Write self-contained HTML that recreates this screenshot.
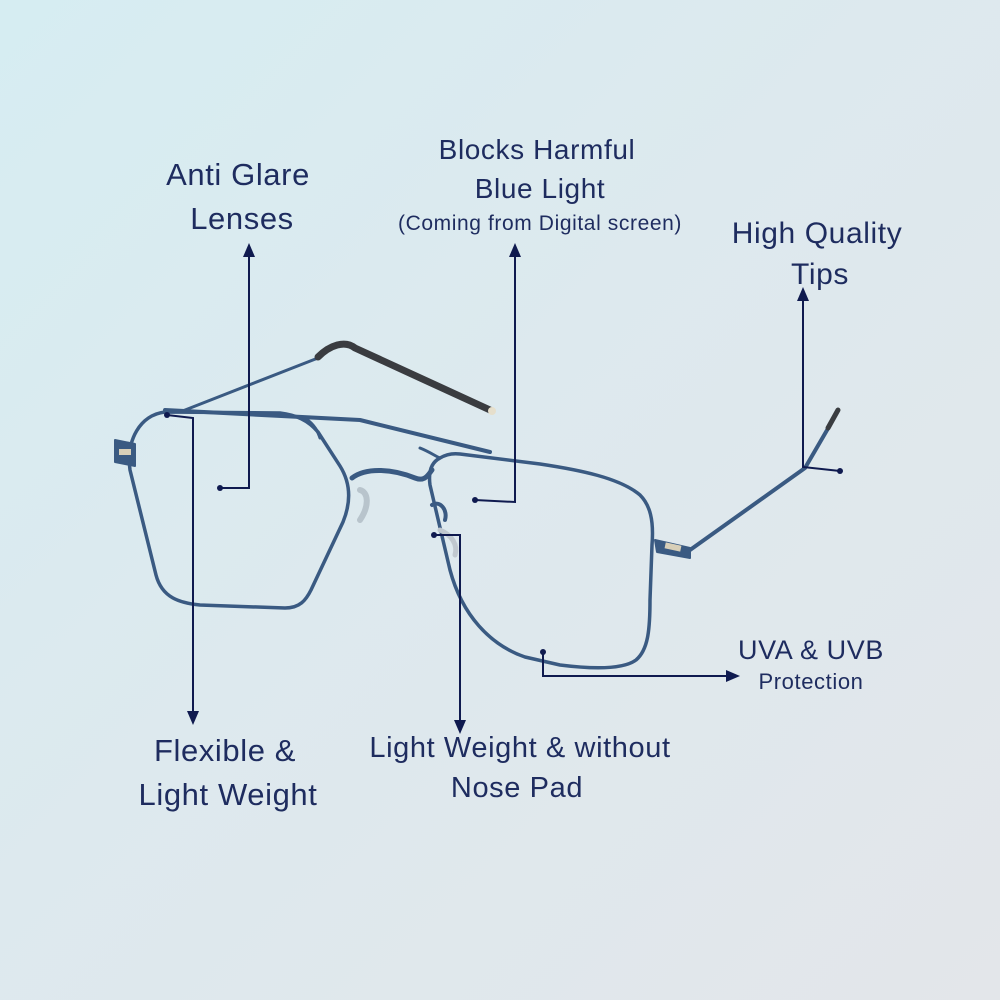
<!DOCTYPE html>
<html><head><meta charset="utf-8"><style>
html,body{margin:0;padding:0}
body{width:1000px;height:1000px;overflow:hidden;background:linear-gradient(135deg,#d6edf2 0%,#dde9ee 45%,#e3e6ea 100%);font-family:"Liberation Sans",sans-serif;position:relative}
.t{position:absolute;color:#1e2c5f;text-align:center;white-space:nowrap;transform:translateX(-50%);line-height:1;letter-spacing:0.6px}
svg{position:absolute;left:0;top:0}
</style></head><body>
<svg width="1000" height="1000" viewBox="0 0 1000 1000">
<g fill="none" stroke="#3a5a82" stroke-linecap="round" stroke-linejoin="round">
<path d="M180,412 L318,358" stroke-width="3"/>
<path d="M318,357 C330,345 345,340 355,348 L490,410" stroke="#3a3c40" stroke-width="7"/>
<path d="M165,410 L360,420 L490,452" stroke-width="4"/>
<path d="M305,418 C315,425 318,432 320,438" stroke-width="3"/>
<path d="M420,448 C430,452 435,456 440,458" stroke-width="3"/>
<path d="M165,412 C140,415 126,440 130,470 L156,575 C162,598 180,603 200,605 L285,608 C300,608 306,600 311,590 L343,522 C352,500 350,482 340,466 L318,432 C308,420 296,415 280,413 Z" stroke-width="3.5"/>
<path d="M352,478 C365,468 390,468 415,478 C425,482 428,475 432,470" stroke-width="5"/>
<path d="M440,458 C432,462 428,470 430,485 L450,570 C462,615 490,645 525,657 L560,665 C600,670 625,668 636,660 C648,650 650,630 650,600 L652,545 C654,520 650,505 640,495 C620,478 580,470 540,464 L460,454 C452,453 445,455 440,458 Z" stroke-width="3.5"/>
<path d="M360,490 C368,492 370,505 360,520" stroke="#b8c4cc" stroke-width="6"/>
<path d="M432,505 C440,500 448,510 445,520" stroke-width="4"/>
<path d="M440,530 C452,535 458,545 455,555" stroke="#c0c8cf" stroke-width="5"/>
<path d="M655,540 L690,548 L690,558 L657,552 Z" fill="#3a5a82" stroke-width="2"/>
<path d="M115,440 L135,444 L135,466 L115,462 Z" fill="#3a5a82" stroke-width="2"/>
<path d="M690,550 L805,468 L830,425" stroke-width="4"/>
<path d="M828,428 L838,410" stroke="#3a3c40" stroke-width="5"/>
</g>
<rect x="665" y="544" width="16" height="6" fill="#d8cfb8" transform="rotate(12 673 547)"/>
<rect x="119" y="449" width="12" height="6" fill="#d8cfb8"/>
<circle cx="492" cy="411" r="4" fill="#e6dfcc"/>
<g stroke="#0f1a4f" stroke-width="2" fill="none">
<polyline points="220,488 249,488 249,255"/>
<polyline points="475,500 515,502 515,255"/>
<polyline points="840,471 803,467 803,298"/>
<polyline points="543,652 543,676 728,676"/>
<polyline points="167,415 193,418 193,712"/>
<polyline points="434,535 460,535 460,722"/>
</g>
<g fill="#0f1a4f">
<circle cx="220" cy="488" r="3"/><circle cx="475" cy="500" r="3"/><circle cx="840" cy="471" r="3"/>
<circle cx="543" cy="652" r="3"/><circle cx="167" cy="415" r="3"/><circle cx="434" cy="535" r="3"/>
<polygon points="249,243 243,257 255,257"/>
<polygon points="515,243 509,257 521,257"/>
<polygon points="803,287 797,301 809,301"/>
<polygon points="740,676 726,670 726,682"/>
<polygon points="193,725 187,711 199,711"/>
<polygon points="460,734 454,720 466,720"/>
</g>
</svg>
<div class="t" style="left:238px;top:159px;font-size:31px">Anti Glare</div>
<div class="t" style="left:242px;top:203px;font-size:31px">Lenses</div>
<div class="t" style="left:537px;top:136px;font-size:28px">Blocks Harmful</div>
<div class="t" style="left:540px;top:175px;font-size:28px">Blue Light</div>
<div class="t" style="left:540px;top:213px;font-size:21px">(Coming from Digital screen)</div>
<div class="t" style="left:817px;top:219px;font-size:30px">High Quality</div>
<div class="t" style="left:820px;top:260px;font-size:30px">Tips</div>
<div class="t" style="left:811px;top:637px;font-size:27px">UVA &amp; UVB</div>
<div class="t" style="left:811px;top:671px;font-size:22px">Protection</div>
<div class="t" style="left:225px;top:735px;font-size:31px">Flexible &amp;</div>
<div class="t" style="left:228px;top:779px;font-size:31px">Light Weight</div>
<div class="t" style="left:520px;top:734px;font-size:29px">Light Weight &amp; without</div>
<div class="t" style="left:517px;top:774px;font-size:29px">Nose Pad</div>
</body></html>
